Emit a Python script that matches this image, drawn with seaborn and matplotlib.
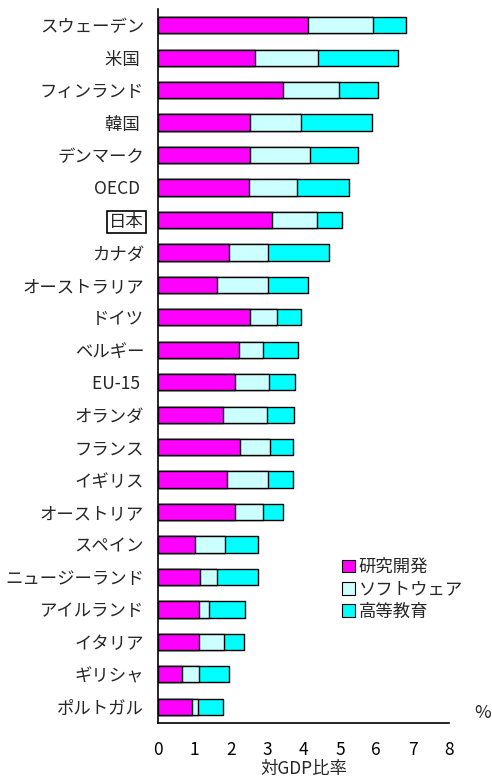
import pandas as pd
import matplotlib
matplotlib.use('Agg')
import matplotlib.pyplot as plt
from matplotlib.patches import Patch
import seaborn as sns

sns.set_style('white')
plt.rcParams['font.family'] = ['Noto Sans CJK JP', 'DejaVu Sans']

# values (% of GDP)
countries = ['スウェーデン', '米国 ', 'フィンランド', '韓国 ', 'デンマーク', 'OECD ', '日本',
             'カナダ', 'オーストラリア', 'ドイツ', 'ベルギー', 'EU-15 ', 'オランダ', 'フランス',
             'イギリス', 'オーストリア', 'スペイン', 'ニュージーランド', 'アイルランド', 'イタリア',
             'ギリシャ', 'ポルトガル']
rd = [4.11, 2.66, 3.44, 2.53, 2.53, 2.49, 3.13, 1.96, 1.63, 2.53, 2.23, 2.13, 1.80, 2.26,
      1.91, 2.13, 1.03, 1.16, 1.13, 1.12, 0.65, 0.94]
software = [1.81, 1.75, 1.53, 1.41, 1.64, 1.34, 1.25, 1.06, 1.39, 0.75, 0.67, 0.91, 1.21, 0.81,
            1.12, 0.77, 0.82, 0.47, 0.26, 0.69, 0.47, 0.17]
higher_ed = [0.90, 2.18, 1.09, 1.94, 1.33, 1.42, 0.67, 1.69, 1.10, 0.66, 0.94, 0.72, 0.74, 0.65,
             0.69, 0.54, 0.91, 1.13, 1.00, 0.56, 0.82, 0.68]
legend_labels = ['研究開発', 'ソフトウェア', '高等教育']
colors = ['#FF00FF', '#CCFFFF', '#00FFFF']

df = pd.DataFrame({'country': countries, 'rd': rd, 'soft': software, 'edu': higher_ed})
df['c1'] = df['rd']
df['c2'] = df['rd'] + df['soft']
df['c3'] = df['c2'] + df['edu']

fig = plt.figure(figsize=(4.92, 7.78), dpi=100)
ax = fig.add_axes([158/492, 1-723/778, 291/492, 714/778])

# stacked bars: draw cumulative totals back to front
for col, c in zip(['c3', 'c2', 'c1'], colors[::-1]):
    sns.barplot(data=df, x=col, y='country', orient='h', color=c, saturation=1,
                width=0.5, edgecolor='black', linewidth=1, ax=ax)

ax.set_xlim(0, 8)
ax.set_ylim(21.5, -0.5)
ax.set_xticks(range(0, 9))
ax.set_xlabel('対GDP比率', fontsize=12.5, labelpad=1)
ax.set_ylabel('')
ax.tick_params(axis='x', direction='in', length=6, width=1, pad=13, labelsize=12.5, colors='black')
ax.tick_params(axis='y', length=0, pad=10, labelsize=12.5)
for s in ['top', 'right']:
    ax.spines[s].set_visible(False)
for s in ['left', 'bottom']:
    ax.spines[s].set_color('black')
    ax.spines[s].set_linewidth(1.2)

for lab in ax.get_yticklabels():
    if lab.get_text() == '日本':
        lab.set_bbox(dict(facecolor='none', edgecolor='black', linewidth=1.2, pad=1.5))

handles = [Patch(facecolor=c, edgecolor='black', linewidth=0.8) for c in colors]
ax.legend(handles, legend_labels, loc='upper left', bbox_to_anchor=(342/492, 1-558/778),
          bbox_transform=fig.transFigure, frameon=False, fontsize=12.5, borderpad=0,
          borderaxespad=0, handlelength=0.75, handleheight=0.75, handletextpad=0.2,
          labelspacing=0.25)

fig.text(474/492, 1-713/778, '%', fontsize=13, va='center', ha='left')

plt.savefig('out.png', dpi=100)
